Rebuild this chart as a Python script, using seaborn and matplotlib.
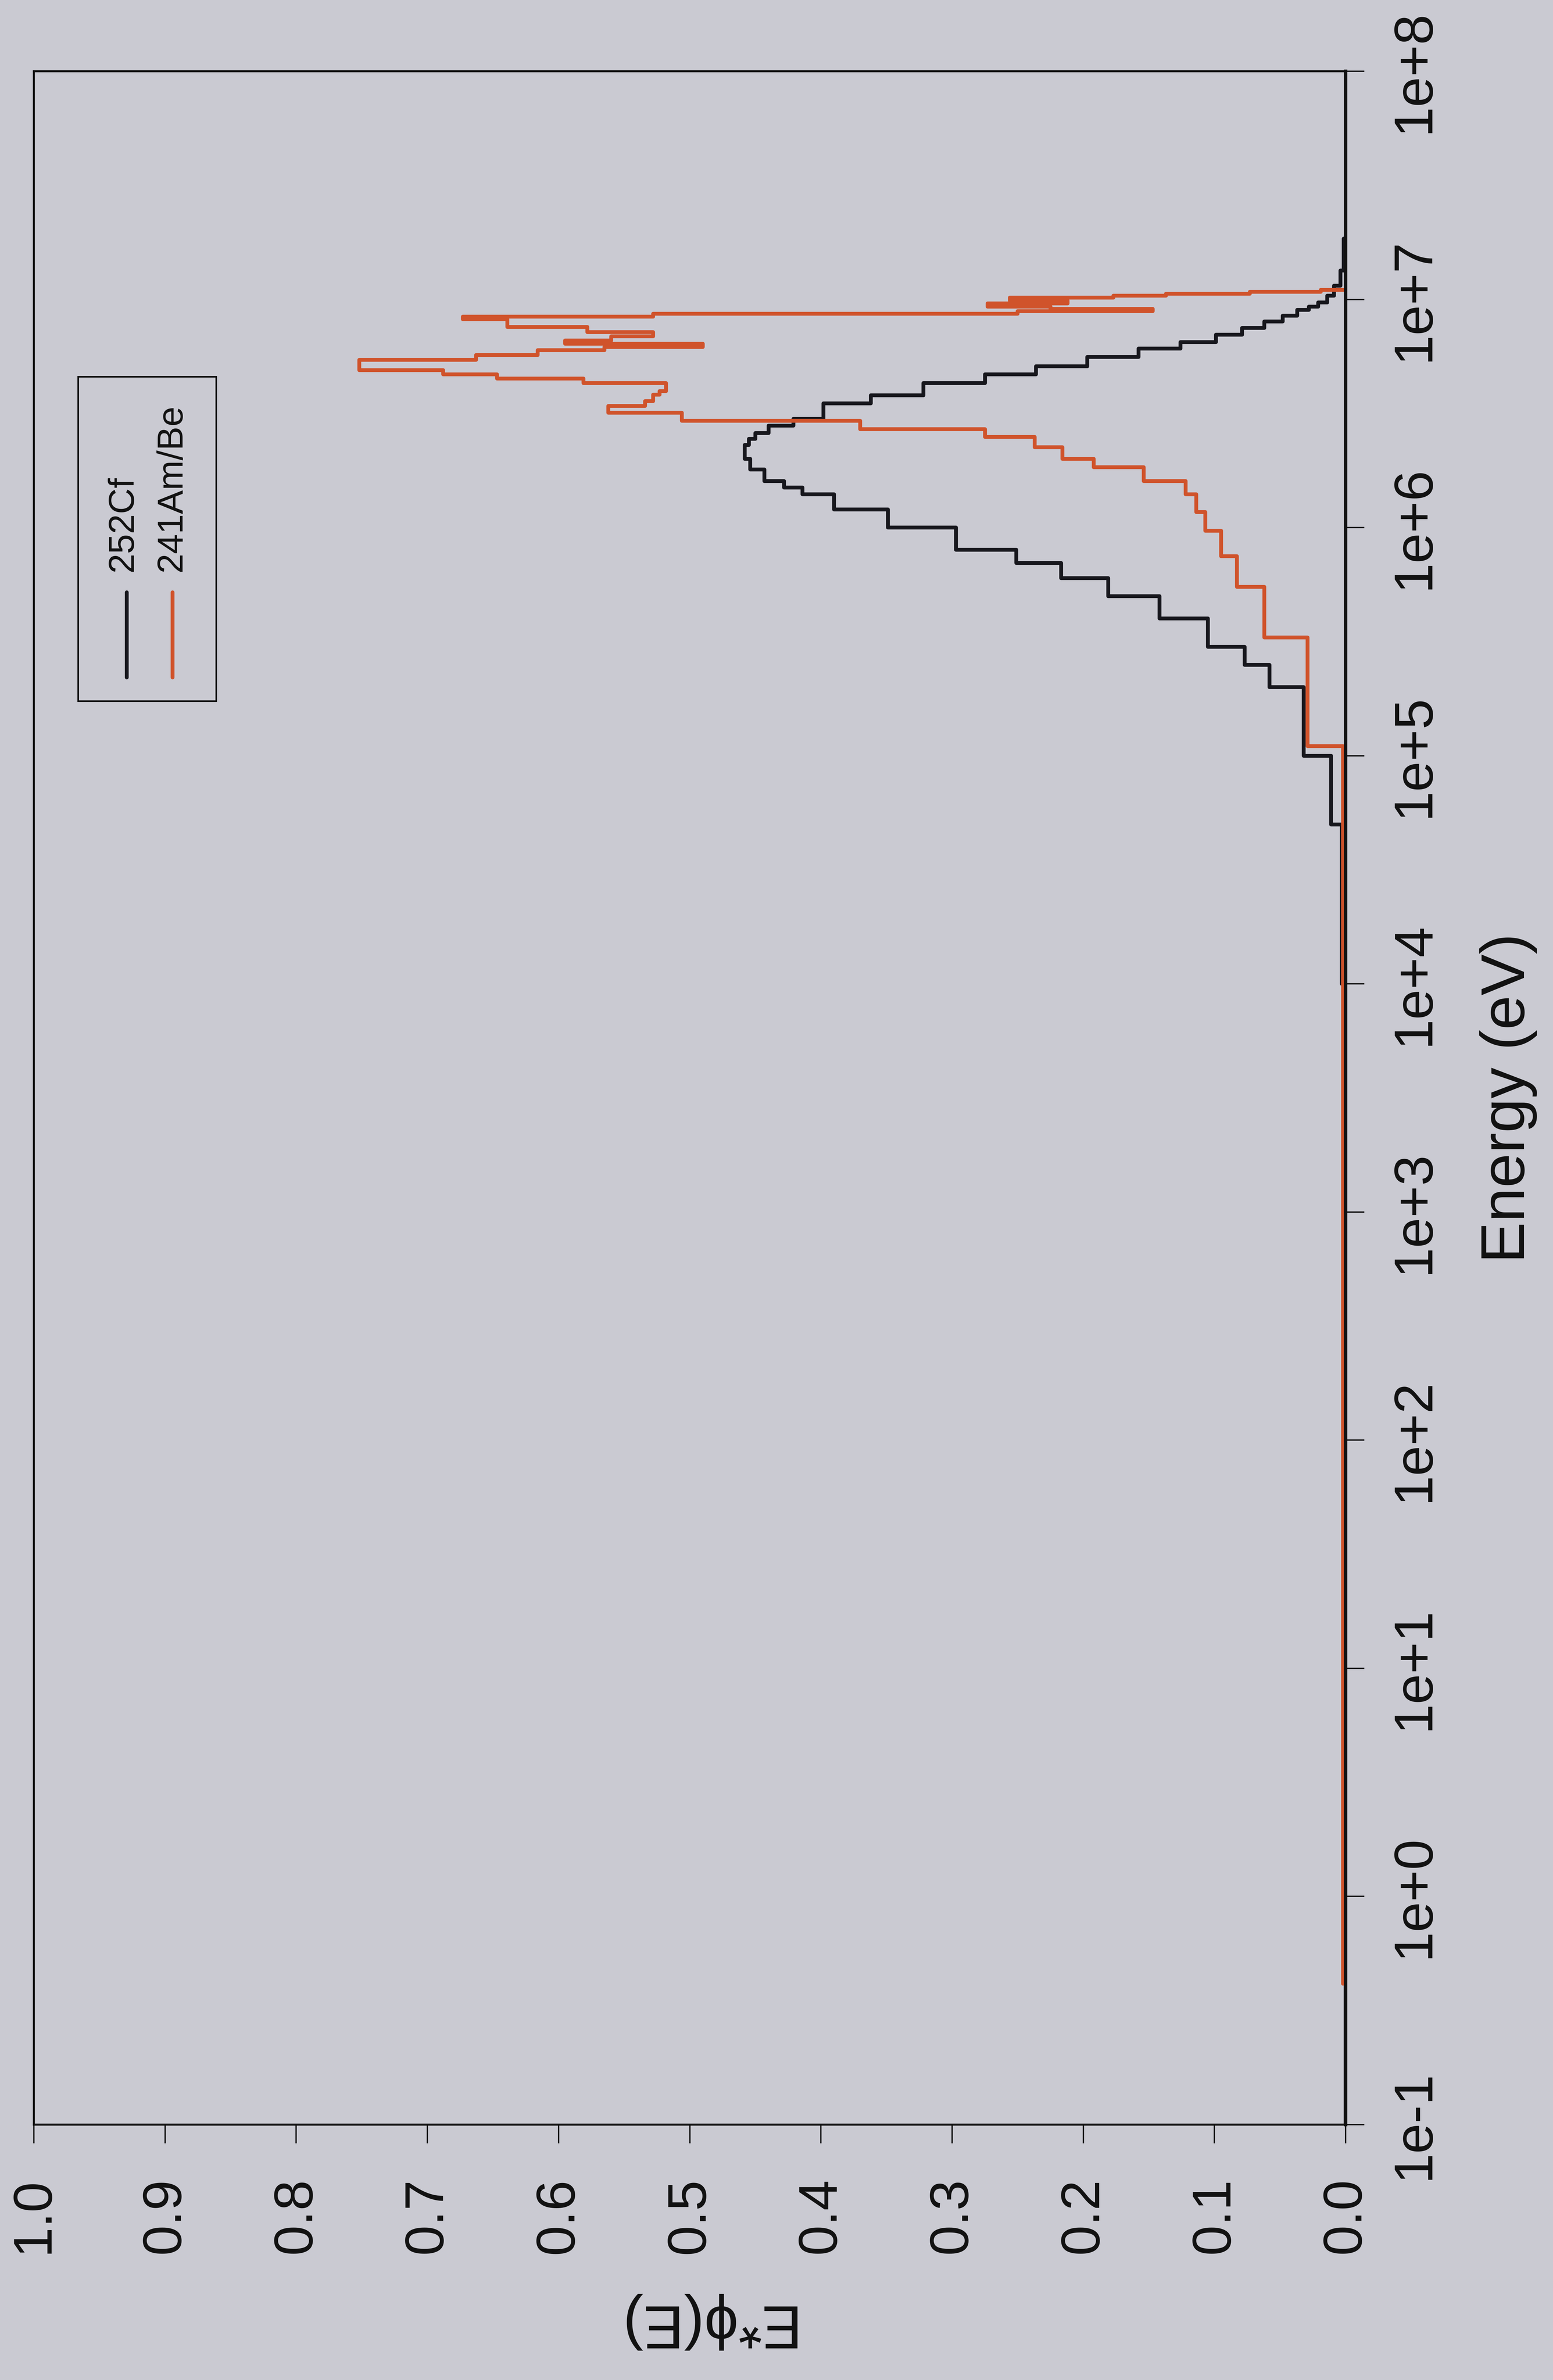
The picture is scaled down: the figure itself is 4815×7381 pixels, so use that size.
import numpy as np
import pandas as pd
import matplotlib
matplotlib.use("Agg")
import matplotlib.pyplot as plt
import seaborn as sns
from matplotlib.patches import Rectangle
from matplotlib.lines import Line2D
from matplotlib.ticker import NullLocator

# ---------------- data ----------------
# 252Cf: lower bin edges (eV) + final upper edge, and the value of each bin
cf_edges = [0.1, 1e4, 5e4, 1e5, 2e5, 2.5e5, 3e5, 4e5, 5e5, 6e5,
            7e5, 8e5, 1e6, 1.2e6, 1.4e6, 1.5e6, 1.6e6, 1.8e6, 2.0e6, 2.3e6,
            2.45e6, 2.6e6, 2.8e6, 3.0e6, 3.5e6, 3.8e6, 4.3e6, 4.7e6, 5.1e6, 5.6e6,
            6.1e6, 6.5e6, 7.0e6, 7.5e6, 8.0e6, 8.5e6, 9.0e6, 9.3e6, 9.7e6, 1.04e7,
            1.15e7, 1.34e7, 1.85e7]
cf_values = [0.0, 0.003, 0.011, 0.032, 0.058, 0.077, 0.105, 0.142, 0.181, 0.217,
             0.251, 0.297, 0.349, 0.390, 0.414, 0.428, 0.443, 0.454, 0.458, 0.455,
             0.450, 0.440, 0.421, 0.398, 0.362, 0.322, 0.275, 0.236, 0.197, 0.158,
             0.126, 0.099, 0.079, 0.062, 0.048, 0.037, 0.028, 0.021, 0.014, 0.009,
             0.004, 0.0015]

# 241Am/Be
am_edges = [0.414, 1.1e5, 3.3e5, 5.5e5, 7.5e5, 9.7e5, 1.17e6, 1.4e6, 1.6e6, 1.84e6,
            2.0e6, 2.25e6, 2.5e6, 2.7e6, 2.94e6, 3.19e6, 3.41e6, 3.59e6, 3.83e6, 3.97e6,
            4.3e6, 4.5e6, 4.69e6, 4.9e6, 5.43e6, 5.7e6, 6.0e6, 6.2e6, 6.4e6, 6.6e6,
            6.9e6, 7.2e6, 7.57e6, 8.2e6, 8.4e6, 8.67e6, 8.9e6, 9.1e6, 9.3e6, 9.6e6,
            9.9e6, 1.02e7, 1.04e7, 1.06e7, 1.08e7, 1.1e7]
am_values = [0.002, 0.029, 0.062, 0.083, 0.095, 0.107, 0.114, 0.122, 0.154, 0.192,
             0.216, 0.237, 0.275, 0.370, 0.506, 0.562, 0.534, 0.528, 0.523, 0.518,
             0.581, 0.647, 0.688, 0.752, 0.663, 0.616, 0.565, 0.490, 0.595, 0.560,
             0.528, 0.578, 0.639, 0.673, 0.528, 0.250, 0.147, 0.225, 0.273, 0.212,
             0.256, 0.177, 0.137, 0.073, 0.019]

series_names = ["252Cf", "241Am/Be"]
series_colors = ["#17171d", "#d0532b"]

energy_ticks = [1e-1, 1e0, 1e1, 1e2, 1e3, 1e4, 1e5, 1e6, 1e7, 1e8]
energy_tick_labels = ["1e-1", "1e+0", "1e+1", "1e+2", "1e+3", "1e+4",
                      "1e+5", "1e+6", "1e+7", "1e+8"]
value_ticks = [1.0, 0.9, 0.8, 0.7, 0.6, 0.5, 0.4, 0.3, 0.2, 0.1, 0.0]
value_tick_labels = ["1.0", "0.9", "0.8", "0.7", "0.6", "0.5",
                     "0.4", "0.3", "0.2", "0.1", "0.0"]

# ---------------- build table ----------------
frames = []
for name, edges, vals in [(series_names[0], cf_edges, cf_values),
                          (series_names[1], am_edges, am_values)]:
    frames.append(pd.DataFrame({"energy": edges,
                                "value": list(vals) + [0.0],
                                "source": name}))
df = pd.concat(frames, ignore_index=True)

# ---------------- figure ----------------
sns.set_theme(style="white")
plt.rcParams['font.family'] = ['Liberation Sans', 'DejaVu Sans']
BG = "#cacad2"

fig = plt.figure(figsize=(48.15, 73.82), dpi=100, facecolor=BG)
ax = fig.add_axes([0.0218, 0.1073, 0.8447, 0.8626])
ax.set_facecolor(BG)
ax.set_yscale('log')

sns.lineplot(data=df, x="value", y="energy", hue="source",
             hue_order=series_names, palette=dict(zip(series_names, series_colors)),
             orient="y", sort=True, estimator=None, drawstyle="steps-pre",
             linewidth=8.5, legend=False, ax=ax)

ax.set_xlim(1.0, 0.0)
ax.set_ylim(0.1, 1e8)

# spines
for side in ["left", "top", "bottom"]:
    ax.spines[side].set_linewidth(4.5)
    ax.spines[side].set_color("#111111")
ax.spines["right"].set_linewidth(7.5)
ax.spines["right"].set_color("#111111")

# energy axis (vertical, on the right)
ax.set_yticks(energy_ticks, energy_tick_labels)
ax.yaxis.set_minor_locator(NullLocator())
ax.yaxis.tick_right()
ax.tick_params(axis="y", which="major", left=False, right=True, labelleft=False,
               labelright=True, direction="out", length=42, width=3,
               pad=55, labelsize=122, colors="#111111")
for lbl in ax.get_yticklabels():
    lbl.set_rotation(90)
    lbl.set_va("center")
    lbl.set_ha("left")

# value axis (horizontal, at the bottom)
ax.set_xticks(value_ticks, value_tick_labels)
ax.tick_params(axis="x", which="major", bottom=True, top=False, direction="out",
               length=42, width=3, pad=76, labelsize=122, colors="#111111")
for lbl in ax.get_xticklabels():
    lbl.set_rotation(90)
    lbl.set_ha("center")
    lbl.set_va("top")

# axis labels
ax.yaxis.set_label_position("right")
ax.set_ylabel("Energy (eV)", fontsize=138, rotation=90, color="#111111")
ax.yaxis.set_label_coords(1.124, 0.5)
ax.yaxis.label.set_ha("center")
ax.yaxis.label.set_va("center")

ax.set_xlabel("E*ϕ(E)", fontsize=136, rotation=180, color="#111111")
ax.xaxis.set_label_coords(0.51, -0.0958)
ax.xaxis.label.set_ha("center")
ax.xaxis.label.set_va("center")

# legend (rotated like the rest of the chart)
ax.add_patch(Rectangle((0.0337, 0.6933), 0.1053, 0.158, transform=ax.transAxes,
                       fill=False, lw=3.6, ec="#111111", clip_on=False, zorder=5))
for xpos, tx, name, col in [(0.0708, 0.0679, series_names[0], series_colors[0]),
                            (0.1057, 0.1052, series_names[1], series_colors[1])]:
    ax.add_line(Line2D([xpos, xpos], [0.7048, 0.7463], transform=ax.transAxes,
                       color=col, lw=8.5, zorder=6))
    ax.text(tx, 0.7564, name, transform=ax.transAxes, rotation=90,
            ha="center", va="bottom", fontsize=80, color="#111111", zorder=6)

fig.savefig("out.png", dpi=100, facecolor=BG)
